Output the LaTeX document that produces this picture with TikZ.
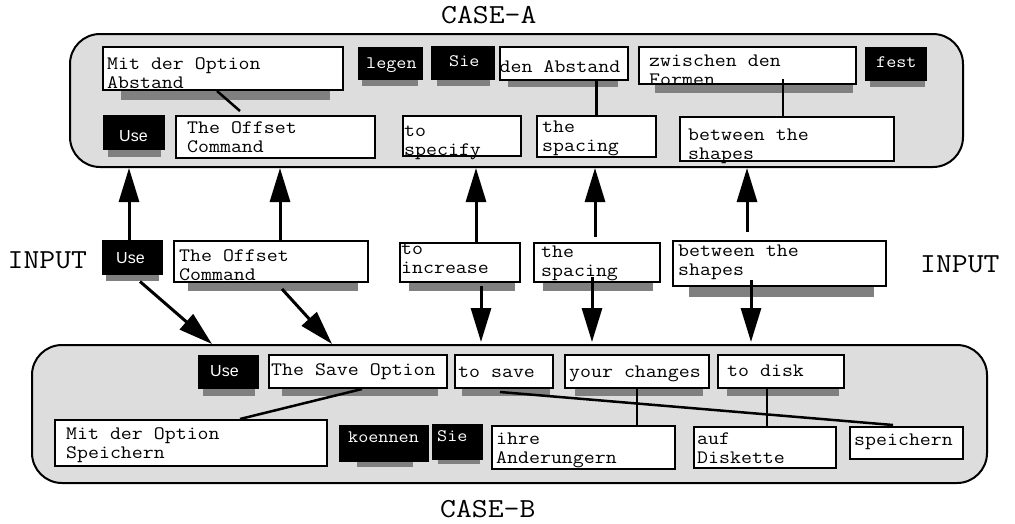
\documentclass[tikz,border=0pt]{standalone}
\usepackage{fontspec}
\newfontfamily\monofam[FakeStretch=1.12]{Latin Modern Mono}
\newfontfamily\sansfam{Liberation Sans}
\usetikzlibrary{arrows.meta,fit,calc}
\definecolor{panelgray}{HTML}{DDDDDD}
\definecolor{shadegray}{HTML}{808080}
% two or more lines, reference point on the first baseline
\newcommand\twoln[1]{\begin{tabular}[t]{@{}l@{}}#1\end{tabular}}
\tikzset{
  panel/.style={draw, line width=2pt, fill=panelgray, rounded corners=30pt, inner sep=0pt},
  wbox/.style={draw, line width=2pt, fill=white, inner sep=0pt},
  kbox/.style={draw, line width=1pt, fill=black, inner sep=0pt},
  shadowbar/.style={fill=shadegray},
  wtxt/.style={font=\monofam\fontsize{19}{19}\selectfont, inner sep=0pt, anchor=base west},
  ktxt/.style={font=\monofam\fontsize{17.5}{19}\selectfont, text=white, inner sep=0pt, anchor=base west},
  utxt/.style={font=\sansfam\fontsize{16}{19}\selectfont, text=white, inner sep=0pt, anchor=base west},
  title/.style={font=\monofam\fontsize{27.5}{30}\selectfont, inner sep=0pt, anchor=base west},
  arr/.style={line width=3pt, -{Triangle[length=34pt,width=20pt]}},
  link/.style={line width=2.5pt},
}
\newcommand\WBox[5]{\node[wbox, fit={(#2,#3) (#4,#5)}] (#1) {};}
\newcommand\KBox[5]{\node[kbox, fit={(#2,#3) (#4,#5)}] (#1) {};}
\newcommand\ShBar[4]{\fill[shadowbar] (#1,#2) rectangle (#3,#4);}
\begin{document}
\begin{tikzpicture}[x=1pt,y=-1pt]
\useasboundingbox (0,0) rectangle (1015,523);

% titles
\node[title] (titleA) at (441,23) {CASE-A};
\node[title] (titleB) at (440,517) {CASE-B};
\node[title] (inL) at (7.5,268) {INPUT};
\node[title] (inR) at (920,272) {INPUT};

% panels
\node[panel, fit={(70,34) (963,167)}] (A) {};
\node[panel, fit={(32,345) (987,483)}] (B) {};

% ---- CASE-A, German row
\ShBar{121}{87}{330}{100}
\WBox{tMit}{103}{47}{343}{90}
\node[wtxt] (tMitT) at (107,69) {\twoln{Mit der Option\\Abstand}};
\ShBar{362}{76}{418}{86}
\KBox{tLeg}{358}{47}{422}{79}
\node[ktxt] (tLegT) at (366,68) {legen};
\ShBar{437}{76}{490}{86}
\KBox{tSie}{431}{46}{494}{79}
\node[ktxt] (tSieT) at (449,66) {Sie};
\ShBar{508}{77}{618}{87}
\WBox{tAbs}{500}{47}{628}{80}
\node[wtxt] (tAbsT) at (499.5,72) {den Abstand};
\ShBar{655}{81}{853}{93}
\WBox{tZw}{639}{47}{856}{84}
\node[wtxt] (tZwT) at (649,66) {\twoln{zwischen den\\Formen}};
\ShBar{870}{77}{925}{87}
\KBox{tFest}{865}{47}{926}{80}
\node[ktxt] (tFestT) at (876,67) {fest};

% ---- CASE-A, English row
\ShBar{108}{146}{161}{157}
\KBox{aUse}{103}{115}{164}{149}
\node[utxt] (aUseT) at (119,141) {Use};
\WBox{aOff}{176}{116}{375}{158}
\node[wtxt] (aOffT) at (187,133) {\twoln{The Offset\\Command}};
\WBox{aSpec}{403}{116}{521}{156}
\node[wtxt] (aSpecT) at (404,136) {\twoln{to\\specify}};
\WBox{aSpa}{537}{116}{656}{157}
\node[wtxt] (aSpaT) at (542,132) {\twoln{the\\spacing}};
\WBox{aBet}{680}{117}{894}{161}
\node[wtxt] (aBetT) at (688,140) {\twoln{between the\\shapes}};

% ---- input row
\ShBar{106}{271}{159}{281}
\KBox{mUse}{102}{240}{162}{274}
\node[utxt] (mUseT) at (116,263) {Use};
\ShBar{188}{279}{358}{291}
\WBox{mOff}{174}{241}{368}{282}
\node[wtxt] (mOffT) at (179,261) {\twoln{The Offset\\Command}};
\ShBar{409}{279}{515}{291}
\WBox{mInc}{400}{243}{520}{282}
\node[wtxt] (mIncT) at (401,254) {\twoln{to\\increase}};
\ShBar{543}{279}{653}{291}
\WBox{mSpa}{534}{243}{660}{282}
\node[wtxt] (mSpaT) at (541,257) {\twoln{the\\spacing}};
\ShBar{689}{283}{874}{297}
\WBox{mBet}{673}{241}{886}{286}
\node[wtxt] (mBetT) at (678,256) {\twoln{between the\\shapes}};

% ---- CASE-B, English row
\ShBar{203}{385}{255}{396}
\KBox{bUse}{198}{355}{258}{388}
\node[utxt] (bUseT) at (210,376) {Use};
\ShBar{282}{385}{438}{396}
\WBox{bSave}{269}{355}{447}{388}
\node[wtxt] (bSaveT) at (271,375) {The Save Option};
\ShBar{462}{385}{550}{396}
\WBox{bToSave}{455}{355}{553}{388}
\node[wtxt] (bToSaveT) at (458,377) {to save};
\ShBar{575}{385}{703}{396}
\WBox{bYour}{565}{355}{709}{388}
\node[wtxt] (bYourT) at (569,377) {your changes};
\ShBar{727}{385}{839}{396}
\WBox{bDisk}{718}{355}{844}{388}
\node[wtxt] (bDiskT) at (727,376) {to disk};

% ---- CASE-B, German row
\WBox{bMit}{55}{420}{327}{466}
\node[wtxt] (bMitT) at (66,439) {\twoln{Mit der Option\\Speichern}};
\ShBar{357}{458}{413}{467}
\KBox{bKoe}{339}{425}{428}{461}
\node[ktxt] (bKoeT) at (348,442) {koennen};
\ShBar{438}{456}{480}{464}
\KBox{bSie}{432}{424}{482}{459}
\node[ktxt] (bSieT) at (437,441) {Sie};
\WBox{bIhre}{492}{426}{675}{469}
\node[wtxt] (bIhreT) at (496,444) {\twoln{ihre\\Anderungern}};
\WBox{bAuf}{694}{427}{836}{468}
\node[wtxt] (bAufT) at (697,444) {\twoln{auf\\Diskette}};
\WBox{bSpe}{850}{427}{963}{459}
\node[wtxt] (bSpeT) at (854,445) {speichern};

% ---- translation links
\draw[link] ($(tMit.south)+(-6,0)$) -- ($(aOff.north)+(-35.5,-4)$);
\draw[link] (aSpa.north) -- ($(aSpa.north |- tAbs.south)+(0,-2)$);
\draw[link] ($(aBet.north)+(-4,2)$) -- ($(aBet.north |- tZw.south)+(-4,-6)$);
\draw[link] ($(bSave.south)+(4,0)$) -- ($(bMit.north)+(49,0)$);
\draw[link] ($(bToSave.south)+(-4,3)$) -- ($(bSpe.north)+(-13.5,-1)$);
\draw[link] (bYour.south) -- (bYour.south |- bIhre.north);
\draw[link] ($(bAuf.north)+(2,0)$) -- ($(bAuf.north |- bDisk.south)+(2,0)$);

% ---- input arrows into CASE-A
\draw[arr] ($(mUse.north)+(-3,0)$) -- ($(mUse.north |- A.south)+(-3,0)$);
\draw[arr] ($(mOff.north)+(9,0)$) -- ($(mOff.north |- A.south)+(9,0)$);
\draw[arr] ($(mInc.north)+(16,0)$) -- ($(mInc.north |- A.south)+(16,0)$);
\draw[arr] ($(mSpa.north)+(-2,-5)$) -- ($(mSpa.north |- A.south)+(-2,0)$);
\draw[arr] ($(mBet.north)+(-32.5,-8)$) -- ($(mBet.north |- A.south)+(-32.5,0)$);

% ---- input arrows into CASE-B
\draw[arr] ($(mUse.south)+(8,7)$) -- ($(B.north west)+(181,0)$);
\draw[arr] ($(mOff.south)+(11,6)$) -- ($(B.north west)+(301,0)$);
\draw[arr] ($(mInc.south)+(21,3)$) -- ($(mInc.south |- B.north)+(21,-2)$);
\draw[arr] ($(mSpa.south)+(-5,-6)$) -- ($(mSpa.south |- B.north)+(-5,-2)$);
\draw[arr] ($(mBet.south)+(-28.5,-7)$) -- ($(mBet.south |- B.north)+(-28.5,-2)$);
\end{tikzpicture}
\end{document}
